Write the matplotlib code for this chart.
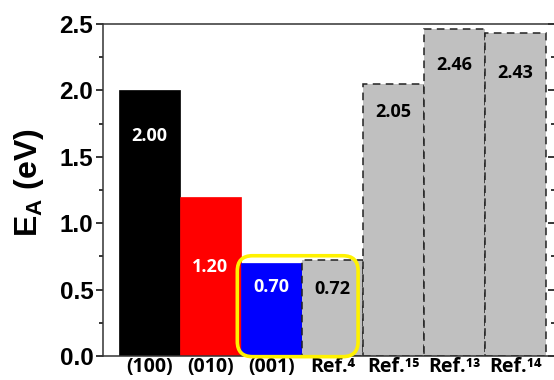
import matplotlib
matplotlib.use("Agg")
import matplotlib.pyplot as plt
from matplotlib.patches import FancyBboxPatch
from matplotlib.ticker import MultipleLocator

categories = ["(100)", "(010)", "(001)", "Ref.\u2074", "Ref.\u00b9\u2075", "Ref.\u00b9\u00b3", "Ref.\u00b9\u2074"]
values = [2.00, 1.20, 0.70, 0.72, 2.05, 2.46, 2.43]
value_labels = ["2.00", "1.20", "0.70", "0.72", "2.05", "2.46", "2.43"]
label_y = [1.66, 0.67, 0.52, 0.505, 1.84, 2.19, 2.13]
bar_colors = ["#000000", "#FF0000", "#0000FF", "#C0C0C0", "#C0C0C0", "#C0C0C0", "#C0C0C0"]
text_colors = ["white", "white", "white", "black", "black", "black", "black"]
dashed = [False, False, False, True, True, True, True]

LABEL_FONT = ["Open Sans", "DejaVu Sans"]

fig = plt.figure(figsize=(5.54, 3.80), dpi=100)
ax = fig.add_axes([103/554, (380-356)/380, (555-103)/554, (356-24)/380])

x = list(range(1, len(values) + 1))
for xi, v, c, d in zip(x, values, bar_colors, dashed):
    if d:
        ax.bar(xi, v, width=1.0, color=c, edgecolor="#222222", linewidth=1.1,
               linestyle=(0, (5, 3.5)), zorder=2)
    else:
        ax.bar(xi, v, width=1.0, color=c, edgecolor=c, linewidth=0.5, zorder=2)

for xi, lab, ly, tc in zip(x, value_labels, label_y, text_colors):
    ax.text(xi, ly, lab, ha="center", va="center", color=tc, fontsize=13,
            fontweight="bold", family=LABEL_FONT, zorder=4)

# yellow rounded highlight
xpx = 61.0
ypx = 132.8
box = FancyBboxPatch((2.44, -0.005), 1.98, 0.76,
                     boxstyle="round,pad=0,rounding_size=0.25",
                     mutation_aspect=xpx / ypx,
                     facecolor="none", edgecolor="#FFF200", linewidth=2.6, zorder=5,
                     clip_on=False)
ax.add_patch(box)

ax.set_xlim(0.238, 7.648)
ax.set_ylim(0, 2.5)
ax.set_xticks(x)
ax.set_xticklabels(categories, fontsize=14, fontweight="bold", family=LABEL_FONT)
ax.yaxis.set_major_locator(MultipleLocator(0.5))
ax.yaxis.set_minor_locator(MultipleLocator(0.25))
ax.tick_params(axis="x", length=0, pad=1)
ax.tick_params(axis="y", which="major", direction="out", length=5, width=1.1,
               labelsize=17.5, pad=2, right=True)
ax.tick_params(axis="y", which="minor", direction="out", length=3, width=1.1, right=True)
for lbl in ax.get_yticklabels():
    lbl.set_fontweight("bold")
    lbl.set_family("Liberation Sans")
# right ticks inward
for t in ax.yaxis.get_major_ticks() + ax.yaxis.get_minor_ticks():
    t.tick2line.set_marker(matplotlib.lines.TICKLEFT)

for s in ax.spines.values():
    s.set_linewidth(1.1)
    s.set_color("#333333")

ax.set_ylabel("E$_\\mathregular{A}$ (eV)", fontsize=23, fontweight="bold",
              family="Liberation Sans")
ax.yaxis.set_label_coords(-0.126, 0.521)

fig.savefig("out.png", dpi=100)
